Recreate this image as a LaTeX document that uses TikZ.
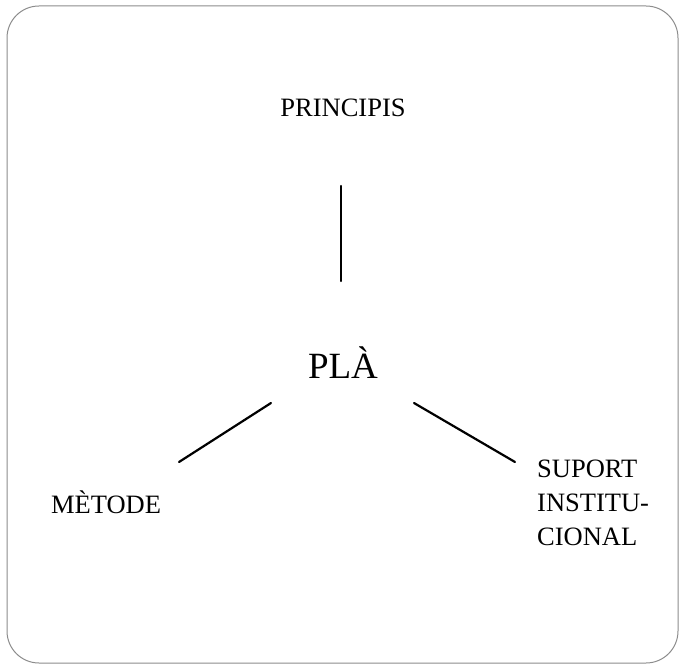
\documentclass[tikz,border=0pt]{standalone}
\usepackage{fontspec}
\setmainfont{Liberation Serif}
\begin{document}
\begin{tikzpicture}[x=1pt,y=-1pt,
  label/.style={inner sep=0pt, font=\fontsize{26.5}{34}\selectfont},
  biglabel/.style={inner sep=0pt, font=\fontsize{37}{44}\selectfont},
  link/.style={line width=2.2pt, line cap=round},
  frame/.style={draw=black!45, line width=1pt, rounded corners=32pt}]
\useasboundingbox (0,0) rectangle (680,666);
\draw[frame] (7,6) rectangle (678,663);
\node[label, anchor=base] (principis) at (343,117) {PRINCIPIS};
\node[biglabel, anchor=base] (pla) at (343,378) {PLÀ};
\node[label, anchor=base] (metode) at (106,513) {MÈTODE};
\node[label, anchor=north west, align=left] (suport) at (537,460) {SUPORT\\INSTITU-\\CIONAL};
\coordinate (t1) at (341,186);
\coordinate (t2) at (341,281);
\coordinate (l1) at (271,403);
\coordinate (l2) at (179,462);
\coordinate (r1) at (414,403);
\coordinate (r2) at (515,462);
\draw[link] (t1) -- (t2);
\draw[link] (l1) -- (l2);
\draw[link] (r1) -- (r2);
\end{tikzpicture}
\end{document}
